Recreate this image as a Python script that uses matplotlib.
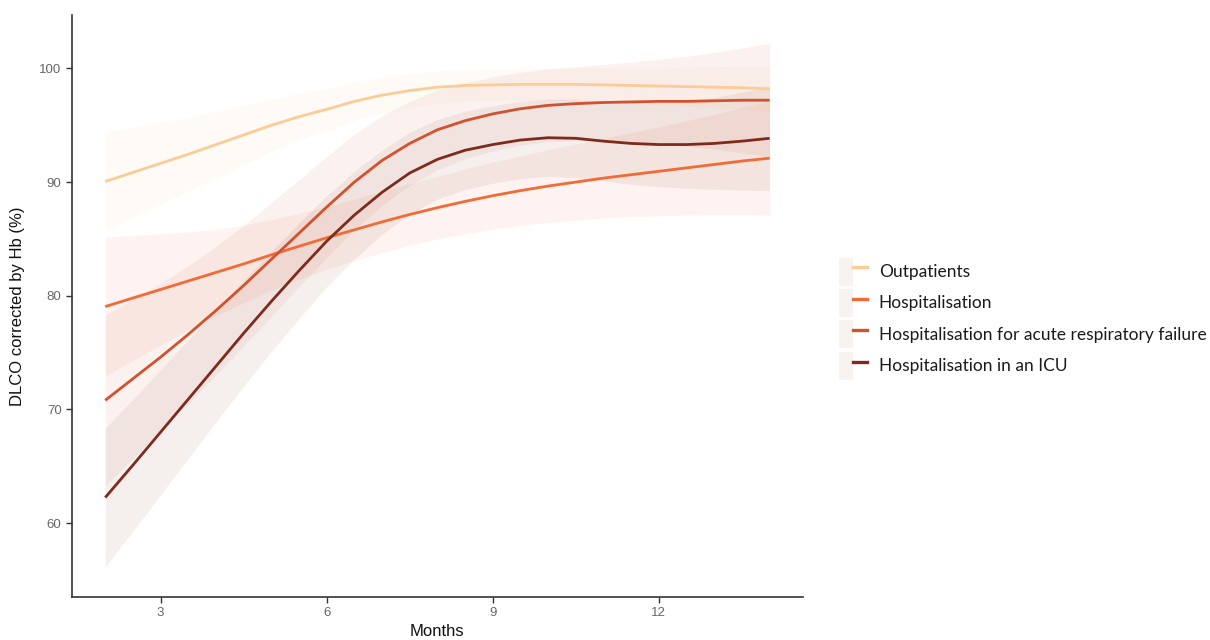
import matplotlib
matplotlib.use("Agg")
import matplotlib.pyplot as plt
from matplotlib.lines import Line2D
from matplotlib.patches import Patch
from matplotlib.legend_handler import HandlerTuple

months = [2.0, 2.5, 3.0, 3.5, 4.0, 4.5, 5.0, 5.5, 6.0, 6.5, 7.0, 7.5, 8.0,
          8.5, 9.0, 9.5, 10.0, 10.5, 11.0, 11.5, 12.0, 12.5, 13.0, 13.5, 14.0]

groups = ["Outpatients", "Hospitalisation",
          "Hospitalisation for acute respiratory failure",
          "Hospitalisation in an ICU"]

outpatients = [90.05, 90.85, 91.65, 92.45, 93.3, 94.15, 95.0, 95.75, 96.4, 97.1,
               97.65, 98.05, 98.35, 98.5, 98.55, 98.6, 98.6, 98.6, 98.55, 98.5,
               98.45, 98.4, 98.35, 98.3, 98.2]
outpatients_ci = [4.35, 4.0, 3.6, 3.25, 2.9, 2.6, 2.3, 2.05, 1.85, 1.7, 1.6, 1.5,
                  1.45, 1.4, 1.4, 1.4, 1.4, 1.45, 1.5, 1.55, 1.6, 1.7, 1.8, 1.9, 2.0]

hospitalisation = [79.05, 79.8, 80.55, 81.3, 82.05, 82.8, 83.6, 84.35, 85.1, 85.8,
                   86.5, 87.15, 87.75, 88.3, 88.8, 89.25, 89.65, 90.0, 90.35, 90.65,
                   90.95, 91.25, 91.55, 91.85, 92.1]
hospitalisation_ci = [6.1, 5.5, 4.9, 4.3, 3.8, 3.4, 3.1, 2.9, 2.75, 2.7, 2.7, 2.7,
                      2.75, 2.85, 2.95, 3.05, 3.2, 3.35, 3.5, 3.7, 3.9, 4.15, 4.4,
                      4.7, 5.0]

resp_failure = [70.8, 72.7, 74.6, 76.6, 78.7, 80.9, 83.2, 85.5, 87.8, 90.0, 91.9,
                93.4, 94.6, 95.4, 96.0, 96.45, 96.75, 96.9, 97.0, 97.05, 97.1,
                97.1, 97.15, 97.2, 97.2]
resp_failure_ci = [7.5, 7.0, 6.5, 6.05, 5.65, 5.3, 5.0, 4.7, 4.45, 4.2, 3.95, 3.7,
                   3.5, 3.35, 3.25, 3.2, 3.2, 3.25, 3.35, 3.5, 3.7, 3.95, 4.25,
                   4.6, 5.0]

icu = [62.25, 65.1, 68.0, 70.9, 73.8, 76.7, 79.5, 82.2, 84.8, 87.1, 89.1, 90.8,
       92.0, 92.8, 93.3, 93.7, 93.9, 93.85, 93.6, 93.4, 93.3, 93.3, 93.4, 93.6,
       93.85]
icu_ci = [6.1, 5.8, 5.5, 5.2, 4.9, 4.65, 4.4, 4.2, 4.0, 3.85, 3.7, 3.6, 3.5, 3.45,
          3.4, 3.4, 3.4, 3.45, 3.5, 3.6, 3.7, 3.85, 4.05, 4.3, 4.6]

colors = ["#FDCB98", "#F26B36", "#D2512E", "#7D2B1C"]
x_ticks = [3, 6, 9, 12]
y_ticks = [60, 70, 80, 90, 100]

series = [outpatients, hospitalisation, resp_failure, icu]
cis = [outpatients_ci, hospitalisation_ci, resp_failure_ci, icu_ci]

fig = plt.figure(figsize=(12.1, 6.4), dpi=100)
ax = fig.add_axes([0.0595, 0.0672, 0.604, 0.9094])

band_alphas = [0.08, 0.075, 0.075, 0.075]
for vals, ci, col, a in zip(series, cis, colors, band_alphas):
    lo = [v - c for v, c in zip(vals, ci)]
    hi = [v + c for v, c in zip(vals, ci)]
    ax.fill_between(months, lo, hi, color=col, alpha=a, linewidth=0)
for vals, col in zip(series, colors):
    ax.plot(months, vals, color=col, linewidth=2.0, solid_capstyle="butt")

ax.set_xlim(1.4, 14.6)
ax.set_ylim(53.5, 104.7)
ax.set_xticks(x_ticks)
ax.set_yticks(y_ticks)
for s in ["top", "right"]:
    ax.spines[s].set_visible(False)
for s in ["left", "bottom"]:
    ax.spines[s].set_color("#333333")
    ax.spines[s].set_linewidth(1.2)
ax.tick_params(axis="both", colors="#333333", length=4, width=1.0,
               labelsize=9.5, labelcolor="#666666")
ax.set_xlabel("Months", fontsize=12, family="Liberation Sans", color="#111111",
              labelpad=3)
ax.set_ylabel("DLCO corrected by Hb (%)", fontsize=12, family="Liberation Sans",
              color="#111111", labelpad=10)
for lab in ax.get_xticklabels() + ax.get_yticklabels():
    lab.set_family("Liberation Sans")

handles = []
for col in colors:
    handles.append((Patch(facecolor="#C89A90", alpha=0.12, edgecolor="none"),
                    Line2D([], [], color=col, linewidth=2.4)))
leg = fig.legend(handles, groups, loc="center left",
                 bbox_to_anchor=(0.686, 0.502), frameon=False,
                 handler_map={tuple: HandlerTuple(ndivide=None, pad=0)},
                 prop={"family": "Lato", "size": 12.5},
                 handlelength=1.6, handleheight=2.1, labelspacing=0.2,
                 handletextpad=0.7, borderpad=0)
for t in leg.get_texts():
    t.set_color("#1a1a1a")

fig.savefig("out.png", dpi=100)
